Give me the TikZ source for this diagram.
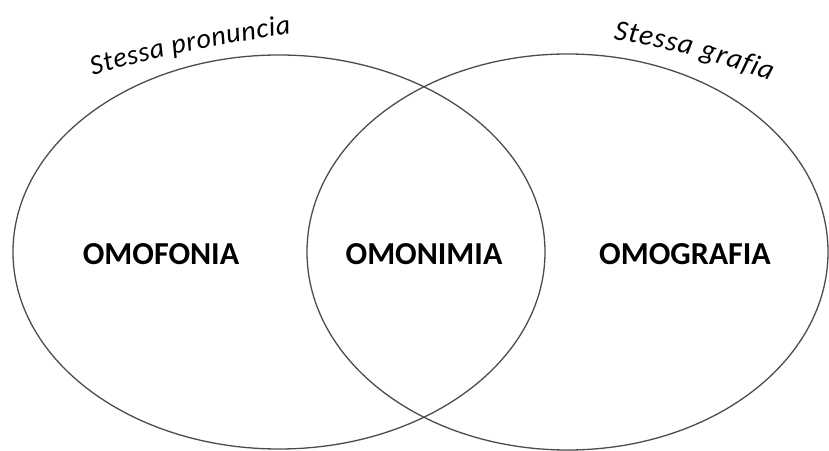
\documentclass[tikz,border=0pt]{standalone}
\usepackage{fontspec}
\setmainfont{Carlito}
\usetikzlibrary{decorations.text}
\begin{document}
\begin{tikzpicture}[x=1pt,y=1pt,
  setline/.style={line width=1.3pt, draw=black!70},
  biglabel/.style={font=\bfseries\fontsize{32}{32}\selectfont, inner sep=0pt, anchor=center},
  arclabel/.style={decorate, decoration={text along path, text align={fit to path}}}]
\useasboundingbox (0,0) rectangle (829,450);
% sets
\draw[setline] (279,198) ellipse[x radius=266, y radius=197];
\draw[setline] (567.5,198) ellipse[x radius=260.5, y radius=198];
% labels
\node[biglabel] (omofonia) at (161,196) {OMOFONIA};
\node[biglabel] (omonimia) at (424,196) {OMONIMIA};
\node[biglabel] (omografia) at (685,196) {OMOGRAFIA};
% curved captions
\coordinate (lc) at (440,-797);
\coordinate (rc) at (499,-346);
\path[arclabel, decoration={text={|\itshape\fontsize{28}{28}\selectfont|Stessa pronuncia}}]
  ([shift={(106.5:1222)}]lc) arc[start angle=106.5, end angle=97.0, radius=1222];
\path[arclabel, decoration={text={|\itshape\fontsize{29}{29}\selectfont|Stessa grafia}}]
  ([shift={(81.4:765)}]rc) arc[start angle=81.4, end angle=69.2, radius=765];
\end{tikzpicture}
\end{document}
